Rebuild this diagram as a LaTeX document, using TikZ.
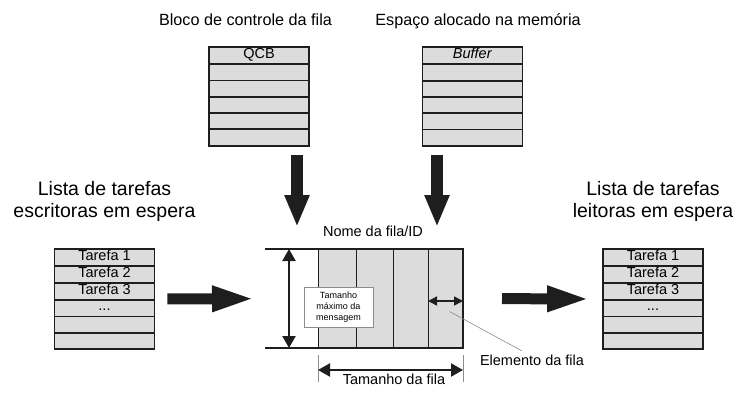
\documentclass[tikz,border=0pt]{standalone}
\usepackage{fontspec}
\setmainfont{Liberation Sans}
\usetikzlibrary{shapes.multipart}
\usetikzlibrary{arrows.meta}
\usetikzlibrary{calc}
\usetikzlibrary{positioning}

\definecolor{cellgray}{RGB}{220,220,220}
\definecolor{linecol}{RGB}{30,30,30}
\definecolor{leadgray}{RGB}{140,140,140}
\newcommand{\rstrut}{\rule[-4.8pt]{0pt}{14.5pt}}

\begin{document}
\begin{tikzpicture}
[x=1pt,y=-1pt,
  list/.style={rectangle split,rectangle split parts=6,draw=linecol,line width=1.8pt,
    fill=cellgray,minimum width=100pt,inner xsep=2pt,inner ysep=0pt,
    font=\fontsize{14.5}{16}\selectfont},
  qcell/.style={draw=linecol,line width=1pt,fill=cellgray,minimum height=99pt,
    inner sep=0pt,outer sep=0pt},
  qline/.style={line width=2.2pt,linecol,line join=miter},
  title/.style={font=\fontsize{16.2}{19}\selectfont},
  bigtitle/.style={font=\fontsize{19.5}{22}\selectfont,align=center,inner sep=0pt},
  txt/.style={font=\fontsize{14.5}{17}\selectfont},
  msgbox/.style={draw=leadgray,fill=white,line width=0.6pt,minimum width=69pt,
    minimum height=40pt,inner sep=1pt,align=center,font=\fontsize{9}{11}\selectfont},
  bigdown/.style={line width=12pt,linecol,-{Triangle[length=32pt,width=23pt]}},
  bigright/.style={line width=11pt,linecol,-{Triangle[length=44pt,width=23pt]}},
  dimline/.style={line width=2.2pt,linecol,
    {Triangle[length=12pt,width=13pt]}-{Triangle[length=12pt,width=13pt]}},
  smalldim/.style={line width=1.5pt,linecol,
    {Triangle[length=9pt,width=9pt]}-{Triangle[length=9pt,width=9pt]}},
  leader/.style={leadgray,line width=0.6pt}]
\useasboundingbox (0,0) rectangle (735,394);
%% control block and buffer
\node[title,anchor=base] (bloco) at (245.5,25) {Bloco de controle da fila};
\node[title,anchor=base] (espaco) at (478,25) {Espaço alocado na memória};
\node[list] (qcb) at (259,96.5) {\rstrut QCB \nodepart{two}\rstrut
  \nodepart{three}\rstrut \nodepart{four}\rstrut
  \nodepart{five}\rstrut \nodepart{six}\rstrut};
\node[list] (buffer) at (472.5,96.5) {\rstrut\textit{Buffer} \nodepart{two}\rstrut
  \nodepart{three}\rstrut \nodepart{four}\rstrut
  \nodepart{five}\rstrut \nodepart{six}\rstrut};
%% waiting lists
\node[list] (wlist) at (104.5,299) {\rstrut Tarefa 1 \nodepart{two}\rstrut Tarefa 2
  \nodepart{three}\rstrut Tarefa 3 \nodepart{four}\rstrut ...
  \nodepart{five}\rstrut \nodepart{six}\rstrut};
\node[list] (rlist) at (653,299) {\rstrut Tarefa 1 \nodepart{two}\rstrut Tarefa 2
  \nodepart{three}\rstrut Tarefa 3 \nodepart{four}\rstrut ...
  \nodepart{five}\rstrut \nodepart{six}\rstrut};
\node[bigtitle] (wtitle) [above=26pt of wlist] {Lista de tarefas\\escritoras em espera};
\node[bigtitle] (rtitle) [above=26pt of rlist] {Lista de tarefas\\leitoras em espera};
%% the queue
\node[qcell,minimum width=38pt] (c1) at (337,298.5) {};
\node[qcell,minimum width=37pt] (c2) [right=0pt of c1] {};
\node[qcell,minimum width=35pt] (c3) [right=0pt of c2] {};
\node[qcell,minimum width=35pt] (c4) [right=0pt of c3] {};
\coordinate (qtl) at ($(c1.north west)+(-53,0)$);
\coordinate (qbl) at ($(c1.south west)+(-53,0)$);
\draw[qline] (qtl) -- (c4.north east) -- (c4.south east) -- (qbl);
\node[txt,anchor=base] (nome) at (373,236) {Nome da fila/ID};
\node[msgbox] (msg) at (338.5,307) {Tamanho\\máximo da\\mensagem};
\node[txt,anchor=base] (elem) at (532,365) {Elemento da fila};
\node[txt,anchor=base] (tam) at (394,384) {Tamanho da fila};
\coordinate (in1) at (297,227);
\coordinate (in2) at (437,227);
%% arrows
\draw[bigdown,shorten <=8pt] (qcb.south -| in1) -- (in1);
\draw[bigdown,shorten <=8pt] (buffer.south -| in2) -- (in2);
\draw[bigright,shorten <=12pt,shorten >=62pt] (wlist.east) -- (c1.west);
\draw[bigright,shorten <=39pt,shorten >=11pt] (c4.east) -- (rlist.west);
\draw[dimline] ($(qtl)+(24,0)$) -- ($(qbl)+(24,0)$);
\draw[smalldim] ([yshift=-2.5pt]c4.west) -- ([yshift=-2.5pt]c4.east);
\draw[leader] ($(c4.center)+(4,13)$) -- ([xshift=-10pt]elem.north);
\draw[leader] ([yshift=-7pt]c1.south west) -- ++(0,27);
\draw[leader] ([yshift=-7pt]c4.south east) -- ++(0,27);
\draw[dimline] ([yshift=-22pt]c1.south west) -- ([yshift=-22pt]c4.south east);
\end{tikzpicture}
\end{document}
